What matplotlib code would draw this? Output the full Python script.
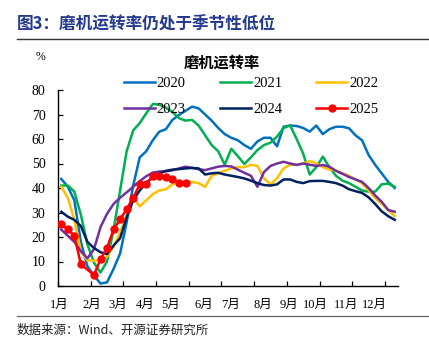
import numpy as np
import matplotlib
matplotlib.use("Agg")
import matplotlib.pyplot as plt
from matplotlib.lines import Line2D

# Weekly mill operating rate (%), week index 0..51
rate_2020 = [43.7, 40.5, 35.0, 18.0, 8.0, 4.3, 1.0, 1.5, 7.0, 13.3, 26.0, 41.0, 52.5, 55.0,
             59.5, 63.0, 64.0, 67.8, 69.8, 71.5, 73.2, 72.5, 70.0, 67.5, 64.5, 62.0, 60.5,
             59.5, 57.5, 56.0, 59.0, 60.5, 60.5, 57.0, 65.0, 65.5, 65.3, 64.5, 63.0, 65.5,
             62.0, 64.0, 65.0, 65.0, 64.4, 61.5, 59.5, 53.5, 49.5, 46.0, 42.5, 40.0]
rate_2021 = [41.0, 41.0, 38.5, 29.0, 17.0, 9.5, 5.5, 10.0, 23.0, 39.0, 55.0, 63.5, 66.5, 70.5,
             74.3, 74.0, 72.8, 71.0, 68.5, 67.5, 67.8, 65.5, 61.5, 57.5, 55.0, 49.5, 56.0,
             53.0, 49.8, 52.5, 55.5, 57.5, 58.5, 61.0, 64.5, 65.5, 60.0, 54.0, 45.5, 48.5,
             52.8, 48.5, 45.0, 43.0, 42.0, 40.5, 39.0, 38.5, 38.5, 41.5, 41.8, 40.5]
rate_2022 = [40.5, 36.0, 27.0, 14.0, 10.5, 10.3, 10.5, 12.0, 16.0, 22.0, 29.0, 36.0, 32.5, 35.0,
             37.5, 39.0, 39.5, 41.5, 42.5, 42.5, 42.5, 42.0, 40.5, 45.0, 46.0, 47.0, 48.0,
             48.5, 48.5, 49.5, 49.0, 44.0, 41.5, 44.0, 48.0, 49.5, 49.5, 50.0, 51.0, 50.0,
             48.5, 47.5, 47.2, 46.0, 45.0, 43.5, 42.0, 39.0, 36.0, 33.5, 31.0, 28.5]
rate_2023 = [23.0, 20.5, 18.0, 14.2, 11.3, 15.0, 24.0, 29.5, 33.5, 36.0, 38.2, 40.5, 42.8, 44.8,
             46.3, 46.7, 46.8, 47.2, 48.0, 48.7, 48.2, 47.7, 47.3, 48.0, 48.7, 49.0, 48.8,
             47.5, 46.2, 45.0, 40.5, 46.5, 49.0, 50.0, 50.7, 50.0, 49.4, 50.0, 49.5, 49.0,
             49.4, 48.7, 47.0, 45.8, 44.5, 43.5, 42.5, 40.0, 37.0, 34.4, 31.0, 30.3]
rate_2024 = [30.3, 28.3, 27.0, 24.5, 18.0, 15.5, 13.8, 13.0, 16.5, 19.5, 28.0, 35.0, 39.0, 42.0,
             44.5, 46.0, 47.0, 47.5, 47.7, 48.0, 48.2, 48.0, 45.5, 46.0, 46.2, 45.5, 45.0,
             44.5, 43.9, 43.0, 42.0, 41.2, 41.0, 41.5, 43.5, 43.5, 42.5, 42.0, 42.8, 42.9,
             42.9, 42.5, 42.0, 41.0, 39.5, 38.7, 38.0, 36.2, 33.5, 30.5, 28.5, 27.0]
# 2025: no reading for week 4 (Spring Festival)
rate_2025 = [25.3, 23.1, 20.5, 8.8, None, 4.5, 10.9, 15.6, 23.1, 27.2, 31.4, 35.9, 41.6, 41.8,
             44.7, 44.7, 44.4, 43.8, 42.0, 42.2]

years = ["2020", "2021", "2022", "2023", "2024", "2025"]
month_labels = ["1月", "2月", "3月", "4月", "5月", "6月", "7月", "8月", "9月", "10月", "11月", "12月"]
month_weeks = [-0.3, 4.6, 8.7, 12.75, 16.8, 21.8, 25.85, 30.85, 34.9, 38.8, 43.6, 47.9]

colors = ["#0070C0", "#00B050", "#FFC000", "#7030A0", "#002060", "#FF0000"]
series = [rate_2020, rate_2021, rate_2022, rate_2023, rate_2024, rate_2025]

W, H = 429, 349
fig = plt.figure(figsize=(W / 100, H / 100), dpi=100)
fig.patch.set_facecolor("white")

serif = ["Liberation Serif", "DejaVu Serif"]
cjk = ["Noto Sans CJK SC", "DejaVu Sans"]
mixed = ["Liberation Serif", "Noto Sans CJK SC"]

ax = fig.add_axes([58 / W, 1 - 286 / H, 340 / W, 196 / H])

handles = []
for yr, vals, c in zip(years, series, colors):
    arr = np.array([np.nan if v is None else v for v in vals], dtype=float)
    wk = np.arange(len(arr))
    ok = ~np.isnan(arr)
    if yr == "2025":
        h, = ax.plot(wk[ok], arr[ok], color=c, lw=1.8, marker="o", ms=5, zorder=5,
                     solid_joinstyle="round", label=yr)
    else:
        h, = ax.plot(wk[ok], arr[ok], color=c, lw=1.8, solid_joinstyle="round", label=yr)
    handles.append(h)

ax.set_xlim(-0.5, 51.5)
ax.set_ylim(0, 80)
ax.set_yticks(np.arange(0, 81, 10))
ax.set_xticks(np.arange(-0.5, 50, 5))
ax.set_xticklabels([])
ax.set_xticks(month_weeks, month_labels, minor=True)
ax.tick_params(axis="x", which="major", direction="in", length=3.5, width=0.9)
ax.tick_params(axis="x", which="minor", length=0, pad=9)
ax.tick_params(axis="y", direction="in", length=3.5, width=0.9, pad=9)
for lab in ax.get_yticklabels():
    lab.set_fontfamily(serif)
    lab.set_fontsize(10)
for lab in ax.get_xticklabels(minor=True):
    lab.set_fontfamily(mixed)
    lab.set_fontsize(9)
for s in ["top", "right"]:
    ax.spines[s].set_visible(False)
for s in ["left", "bottom"]:
    ax.spines[s].set_linewidth(1.0)

# legend: 3 columns, filled column by column
order = [0, 3, 1, 4, 2, 5]
fig.legend([handles[i] for i in order], [years[i] for i in order], ncol=3,
           loc="upper left", bbox_to_anchor=(124 / W, 1 - 77 / H), frameon=False,
           borderpad=0, borderaxespad=0, handlelength=2.1, handletextpad=0.15,
           columnspacing=2.35, labelspacing=0.85,
           prop={"family": serif, "size": 10.5})

fig.text(40 / W, 1 - 57 / H, "%", fontfamily=serif, fontsize=8.5, ha="center", va="center")
fig.text(222 / W, 1 - 63 / H, "磨机运转率", fontfamily=cjk, fontsize=11, weight="bold",
         ha="center", va="center")

fig.text(17 / W, 1 - 25 / H, "图3：磨机运转率仍处于季节性低位", fontfamily=cjk, fontsize=12,
         weight="bold", color="#253A8E", ha="left", va="center")
fig.add_artist(Line2D([17 / W, 1], [1 - 39 / H] * 2, transform=fig.transFigure,
                      color="#333333", lw=1.0))
fig.add_artist(Line2D([17 / W, 1], [1 - 316 / H] * 2, transform=fig.transFigure,
                      color="#666666", lw=0.9))
fig.text(17 / W, 1 - 330 / H, "数据来源：Wind、开源证券研究所", fontfamily=cjk, fontsize=9,
         color="#222222", ha="left", va="center")

fig.savefig("out.png", dpi=100, facecolor="white")
